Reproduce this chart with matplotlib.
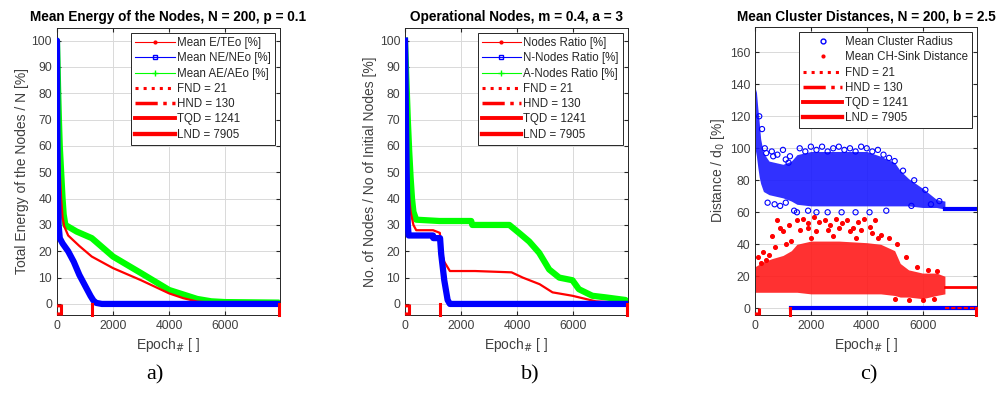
import matplotlib.pyplot as plt
from matplotlib.lines import Line2D

# ---- milestone epochs (shared by all panels)
milestone_names = ["FND", "HND", "TQD", "LND"]
milestone_epochs = [21, 130, 1241, 7905]
milestone_styles = [":", "-.", "-", "-"]
milestone_widths = [2.2, 2.2, 2.2, 2.2]

# ---- a) mean energy of the nodes
a_e_x = [0, 20, 50, 100, 150, 200, 260, 400, 800, 1241, 2000, 3000, 4000, 4500, 5000, 5500, 6000, 7000, 7905]
a_e_y = [100, 85, 65, 50, 40, 33, 29.5, 26, 22, 18, 13.6, 9, 4, 2.2, 0.9, 0.5, 0.3, 0.3, 0.3]
a_ne_x = [0, 10, 20, 40, 60, 100, 200, 400, 600, 800, 1000, 1200, 1300, 1400, 1600, 7905]
a_ne_y = [100, 70, 55, 40, 30, 25, 23, 20, 16, 11, 7, 3, 1.3, 0.4, 0, 0]
a_ae_x = [0, 20, 40, 70, 100, 150, 200, 240, 300, 700, 1241, 2000, 3000, 4000, 5000, 5500, 6000, 7905]
a_ae_y = [100, 92, 82, 70, 60, 50, 40, 34, 30, 27.5, 25, 18, 11.7, 5.3, 1.9, 1.0, 0.7, 0.5]

# ---- b) operational nodes
b_n_x = [0, 30, 60, 100, 150, 200, 300, 400, 1000, 1241, 1300, 1400, 1600, 2500, 3800, 4200, 4800, 5260, 5970, 6440, 6800, 7500, 7905]
b_n_y = [100, 80, 65, 50, 40, 35, 30, 28, 28, 27, 20, 16, 12.5, 12.5, 12, 10, 7.5, 4.4, 3.1, 1.9, 1, 0.5, 0]
b_nn_x = [0, 20, 40, 60, 80, 100, 130, 1000, 1010, 1250, 1290, 1400, 1520, 1600, 7905]
b_nn_y = [100, 85, 65, 50, 38, 30, 26, 26, 25, 25, 19, 9, 1.5, 0, 0]
b_an_x = [0, 50, 100, 150, 200, 250, 300, 400, 1230, 2360, 2400, 3720, 4075, 4430, 4785, 5140, 5500, 5970, 6200, 6680, 7150, 7860, 7905]
b_an_y = [100, 85, 70, 58, 48, 40, 35, 32, 31.5, 31.5, 30, 30, 26.9, 23.7, 19.4, 13.1, 10, 9, 5.6, 3.1, 2.5, 1.5, 1]

# ---- c) mean cluster distances: dense cores (lower / upper edge)
c_rad_x = [0, 50, 100, 150, 200, 300, 500, 1000, 1300, 1500, 2000, 3000, 4000, 4500, 5000, 5200, 5500, 6000, 6500, 6800]
c_rad_hi = [138, 135, 125, 116, 106, 97, 92, 90, 92, 96, 98, 98, 98, 95, 91, 86, 81, 75, 68, 67]
c_rad_lo = [100, 95, 88, 82, 78, 73, 71, 69, 67, 65, 64, 64, 64, 64, 64, 64, 64, 63, 63, 62]
c_rad_out_x = [150, 250, 350, 400, 600, 650, 800, 1000, 1100, 1200, 1250,
               1600, 1800, 2000, 2200, 2400, 2600, 2800, 3000, 3200, 3400, 3600, 3800, 4000, 4200, 4400,
               4600, 4800, 5000, 5300, 5700, 6100, 6600,
               450, 700, 900, 1100, 1400, 1500, 1900, 2200, 2600, 3100, 3600, 4100, 4700, 5600, 6300]
c_rad_out_y = [120, 112, 100, 97, 98, 95, 96, 99, 93, 91, 95,
               100, 98, 101, 99, 101, 98, 100, 101, 99, 100, 98, 101, 100, 98, 99,
               96, 94, 92, 86, 80, 74, 67,
               66, 65, 64, 66, 61, 60, 61, 60, 60, 60, 60, 60, 61, 64, 65]
c_sink_x = [0, 300, 600, 1000, 1300, 1500, 2000, 3000, 4000, 4500, 5000, 5200, 5500, 6000, 6500, 6800]
c_sink_hi = [26, 29, 31, 33, 36, 40, 42, 42, 41, 40, 36, 28, 24, 22, 22, 20]
c_sink_lo = [10, 10, 10, 10, 10, 10, 9, 9, 9, 9, 8, 7, 7, 6, 8, 9]
c_sink_out_x = [100, 200, 300, 400, 500, 600, 700, 800, 900, 1000, 1100, 1200, 1300,
                1500, 1700, 1900, 2100, 2300, 2500, 2700, 2900, 3100, 3300, 3500, 3700, 3900, 4100, 4300,
                1600, 1900, 2200, 2600, 3000, 3400, 3800, 4200, 2000, 2800, 3600, 4400,
                4500, 4800, 5100, 5400, 5800, 6200, 6500, 5000, 5500, 6000, 6400]
c_sink_out_y = [32, 28, 35, 30, 33, 45, 38, 55, 50, 48, 40, 52, 42,
                55, 56, 53, 57, 54, 55, 52, 56, 53, 55, 50, 54, 56, 51, 55,
                49, 50, 48, 49, 50, 48, 49, 47, 44, 45, 44, 44,
                46, 44, 40, 32, 26, 24, 23, 6, 5, 5, 6]
c_tail_x = [6800, 7905]
c_rad_tail = [62, 62]
c_sink_tail = [13.5, 13.5]
c_rad_zero_x = [1300, 7905]
c_sink_zero_x = [6800, 7905]

XMAX = 7950
TXT = "#262626"


def style(ax, title, ylabel, ylim, yticks):
    ax.set_xlim(0, XMAX)
    ax.set_ylim(*ylim)
    ax.set_xticks([0, 2000, 4000, 6000])
    ax.set_yticks(yticks)
    ax.tick_params(direction="in", top=True, right=True, labelsize=8.8,
                   colors=TXT, length=3, labelcolor="#404040")
    ax.grid(True, color="#d9d9d9", linewidth=0.7)
    ax.set_axisbelow(True)
    for s in ax.spines.values():
        s.set_color(TXT)
        s.set_linewidth(0.7)
    ax.set_title(title, fontsize=9.8, fontweight="bold", pad=5)
    ax.set_ylabel(ylabel, fontsize=10, color="#404040", labelpad=2)
    ax.set_xlabel("Epoch$_{\\#}$ [ ]", fontsize=10, color="#404040", labelpad=3)


def milestones(ax, ymin):
    for e, ls, lw in zip(milestone_epochs, milestone_styles, milestone_widths):
        ax.plot([e, e], [ymin, 0], color="red", linestyle=ls, linewidth=lw, clip_on=False, zorder=5)


def milestone_handles():
    return [Line2D([], [], color="red", linestyle=ls, linewidth=lw + 0.3 * i)
            for i, (ls, lw) in enumerate(zip(milestone_styles, milestone_widths))]


def milestone_labels():
    return [f"{n} = {e}" for n, e in zip(milestone_names, milestone_epochs)]


plt.rcParams["font.family"] = ["Liberation Sans", "DejaVu Sans"]
fig = plt.figure(figsize=(9.99, 4.0), dpi=100)

axa = fig.add_axes([0.057, 0.2125, 0.2232, 0.7175])
axb = fig.add_axes([0.4054, 0.2125, 0.2232, 0.7175])
axc = fig.add_axes([0.7558, 0.2125, 0.2222, 0.72])

# ---- panel a
ya = (-4.2, 104.8)
axa.plot(a_e_x, a_e_y, color="red", linewidth=1.6, zorder=3)
axa.plot(a_ne_x, a_ne_y, color="blue", linewidth=4.5, solid_capstyle="round", zorder=3)
axa.plot(a_ae_x, a_ae_y, color="#00ff00", linewidth=4.5, solid_capstyle="round", zorder=2)
milestones(axa, ya[0])
style(axa, "Mean Energy of the Nodes, N = 200, p = 0.1", "Total Energy of the Nodes / N [%]", ya, range(0, 101, 10))
ha = [Line2D([], [], color="red", marker=".", markersize=4, linewidth=0.8),
      Line2D([], [], color="blue", marker="s", markersize=3.5, markerfacecolor="none", linewidth=0.8),
      Line2D([], [], color="#00ff00", marker="+", markersize=5, linewidth=0.8)] + milestone_handles()
la = ["Mean E/TEo [%]", "Mean NE/NEo [%]", "Mean AE/AEo [%]"] + milestone_labels()

# ---- panel b
axb.plot(b_n_x, b_n_y, color="red", linewidth=1.6, zorder=3)
axb.plot(b_an_x, b_an_y, color="#00ff00", linewidth=4.5, zorder=2)
axb.plot(b_nn_x, b_nn_y, color="blue", linewidth=4.5, zorder=3)
milestones(axb, ya[0])
style(axb, "Operational Nodes, m = 0.4, a = 3", "No. of Nodes / No of Initial Nodes [%]", ya, range(0, 101, 10))
hb = [Line2D([], [], color="red", marker=".", markersize=4, linewidth=0.8),
      Line2D([], [], color="blue", marker="s", markersize=3.5, markerfacecolor="none", linewidth=0.8),
      Line2D([], [], color="#00ff00", marker="+", markersize=5, linewidth=0.8)] + milestone_handles()
lb = ["Nodes Ratio [%]", "N-Nodes Ratio [%]", "A-Nodes Ratio [%]"] + milestone_labels()

# ---- panel c
yc = (-4.2, 175.8)
axc.fill_between(c_rad_x, c_rad_lo, c_rad_hi, color="#1a1aff", alpha=0.9, linewidth=0, zorder=2)
axc.scatter(c_rad_out_x, c_rad_out_y, s=14, facecolors="none", edgecolors="blue", linewidths=0.8, zorder=2)
axc.plot(c_tail_x, c_rad_tail, color="blue", linewidth=3, zorder=2)
axc.plot(c_rad_zero_x, [0, 0], color="blue", linewidth=3, zorder=3)
axc.fill_between(c_sink_x, c_sink_lo, c_sink_hi, color="#ff1a1a", alpha=0.9, linewidth=0, zorder=2)
axc.scatter(c_sink_out_x, c_sink_out_y, s=7, color="red", zorder=2)
axc.plot(c_tail_x, c_sink_tail, color="red", linewidth=2, zorder=2)
axc.plot(c_sink_zero_x, [0, 0], color="red", linewidth=1.5, linestyle=(0, (2, 1)), zorder=4)
milestones(axc, yc[0])
style(axc, "Mean Cluster Distances, N = 200, b = 2.5", "Distance / d$_0$ [%]", yc, range(0, 161, 20))
hc = [Line2D([], [], color="blue", marker="o", markersize=3.5, markerfacecolor="none", linestyle="none"),
      Line2D([], [], color="red", marker=".", markersize=4, linestyle="none")] + milestone_handles()
lc = ["Mean Cluster Radius", "Mean CH-Sink Distance"] + milestone_labels()

for ax, h, l in [(axa, ha, la), (axb, hb, lb), (axc, hc, lc)]:
    leg = ax.legend(h, l, loc="upper right", fontsize=8.3, handlelength=3.4, handletextpad=0.2,
                    labelspacing=0.28, borderpad=0.35, borderaxespad=0.45, fancybox=False,
                    framealpha=1, edgecolor=TXT)
    leg.get_frame().set_linewidth(0.7)
    for t in leg.get_texts():
        t.set_color("#262626")

for x, s in [(155, "a)"), (530, "b)"), (869, "c)")]:
    fig.text(x / 999, 1 - 375 / 400, s, ha="center", va="center", fontsize=16, family="Liberation Serif")

fig.savefig("out.png", dpi=100)
